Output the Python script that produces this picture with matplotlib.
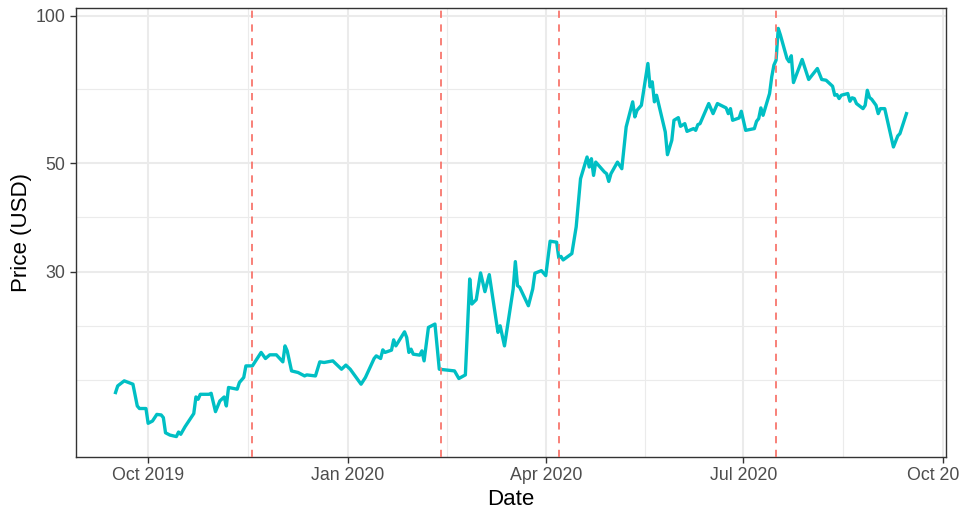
import numpy as np
import pandas as pd
import matplotlib
matplotlib.use("Agg")
import matplotlib.pyplot as plt
import matplotlib.dates as mdates
from matplotlib.ticker import FixedLocator, NullFormatter, FixedFormatter

plt.rcParams["font.family"] = ["Liberation Sans", "DejaVu Sans"]

# Closing prices (USD)
dates = [
    "2019-09-16", "2019-09-17", "2019-09-20", "2019-09-24", "2019-09-26", "2019-09-27",
    "2019-09-30", "2019-10-01", "2019-10-03", "2019-10-05", "2019-10-07", "2019-10-08",
    "2019-10-09", "2019-10-11", "2019-10-14", "2019-10-15", "2019-10-16", "2019-10-18",
    "2019-10-22", "2019-10-23", "2019-10-24", "2019-10-25", "2019-10-29", "2019-10-30",
    "2019-11-01", "2019-11-03", "2019-11-05", "2019-11-06", "2019-11-07", "2019-11-11",
    "2019-11-12", "2019-11-14", "2019-11-15", "2019-11-18", "2019-11-19", "2019-11-22",
    "2019-11-24", "2019-11-26", "2019-11-29", "2019-12-02", "2019-12-03", "2019-12-04",
    "2019-12-06", "2019-12-09", "2019-12-12", "2019-12-13", "2019-12-17", "2019-12-19",
    "2019-12-21", "2019-12-25", "2019-12-29", "2019-12-31", "2020-01-02", "2020-01-07",
    "2020-01-09", "2020-01-13", "2020-01-14", "2020-01-16", "2020-01-17", "2020-01-18",
    "2020-01-21", "2020-01-22", "2020-01-23", "2020-01-27", "2020-01-28", "2020-01-29",
    "2020-01-30", "2020-01-31", "2020-02-03", "2020-02-04", "2020-02-05", "2020-02-07",
    "2020-02-10", "2020-02-12", "2020-02-19", "2020-02-21", "2020-02-24", "2020-02-26",
    "2020-02-27", "2020-02-29", "2020-03-02", "2020-03-04", "2020-03-06", "2020-03-10",
    "2020-03-11", "2020-03-13", "2020-03-17", "2020-03-18", "2020-03-19", "2020-03-20",
    "2020-03-24", "2020-03-26", "2020-03-27", "2020-03-30", "2020-04-01", "2020-04-03",
    "2020-04-06", "2020-04-07", "2020-04-08", "2020-04-09", "2020-04-13", "2020-04-15",
    "2020-04-17", "2020-04-20", "2020-04-21", "2020-04-22", "2020-04-23", "2020-04-24",
    "2020-04-28", "2020-04-29", "2020-04-30", "2020-05-01", "2020-05-04", "2020-05-05",
    "2020-05-06", "2020-05-08", "2020-05-11", "2020-05-12", "2020-05-13", "2020-05-15",
    "2020-05-18", "2020-05-19", "2020-05-20", "2020-05-21", "2020-05-22", "2020-05-26",
    "2020-05-27", "2020-05-29", "2020-05-30", "2020-06-01", "2020-06-02", "2020-06-04",
    "2020-06-05", "2020-06-08", "2020-06-09", "2020-06-10", "2020-06-11", "2020-06-15",
    "2020-06-17", "2020-06-19", "2020-06-23", "2020-06-24", "2020-06-25", "2020-06-26",
    "2020-06-29", "2020-06-30", "2020-07-02", "2020-07-06", "2020-07-07", "2020-07-08",
    "2020-07-09", "2020-07-10", "2020-07-13", "2020-07-14", "2020-07-15", "2020-07-16",
    "2020-07-17", "2020-07-18", "2020-07-21", "2020-07-22", "2020-07-23", "2020-07-24",
    "2020-07-28", "2020-07-31", "2020-08-04", "2020-08-06", "2020-08-08", "2020-08-11",
    "2020-08-12", "2020-08-13", "2020-08-14", "2020-08-15", "2020-08-18", "2020-08-19",
    "2020-08-20", "2020-08-21", "2020-08-22", "2020-08-25", "2020-08-26", "2020-08-27",
    "2020-08-28", "2020-08-29", "2020-08-31", "2020-09-01", "2020-09-02", "2020-09-04",
    "2020-09-08", "2020-09-10", "2020-09-11", "2020-09-14",
]
prices = [
    16.98, 17.52, 17.94, 17.66, 15.94, 15.75,
    15.75, 14.69, 14.85, 15.32, 15.28, 15.09,
    14.05, 13.90, 13.80, 14.10, 13.95, 14.46,
    15.38, 16.63, 16.45, 16.84, 16.84, 16.92,
    15.52, 16.32, 16.63, 15.94, 17.39, 17.25,
    17.80, 18.23, 19.25, 19.25, 19.56, 20.51,
    19.93, 20.28, 20.28, 19.62, 21.15, 20.66,
    18.80, 18.66, 18.36, 18.45, 18.36, 19.62,
    19.56, 19.71, 18.95, 19.32, 18.95, 17.66,
    18.23, 19.93, 20.18, 19.93, 20.76, 20.51,
    20.73, 21.76, 21.15, 22.60, 22.01, 20.51,
    20.83, 20.34, 20.25, 20.66, 19.71, 23.07,
    23.44, 18.95, 18.80, 18.14, 18.45, 28.98,
    25.76, 26.29, 29.82, 27.30, 29.58, 22.54,
    23.25, 21.15, 27.65, 31.45, 28.08, 27.86,
    25.55, 27.65, 29.78, 30.14, 29.44, 34.62,
    34.46, 32.00, 32.23, 31.70, 32.66, 37.04,
    46.45, 51.46, 49.09, 51.05, 47.19, 50.24,
    47.95, 47.57, 45.87, 47.57, 50.24, 49.46,
    48.70, 59.28, 66.72, 62.15, 64.12, 65.64,
    79.93, 71.59, 73.31, 66.72, 68.82, 57.90,
    52.02, 55.66, 61.17, 61.94, 59.46, 60.21,
    58.06, 58.82, 58.34, 59.93, 60.21, 66.18,
    63.12, 66.18, 64.84, 63.12, 64.62, 61.17,
    61.85, 63.82, 58.34, 58.82, 60.87, 61.66,
    64.84, 62.62, 69.38, 75.06, 79.29, 81.18,
    94.27, 91.34, 81.84, 80.58, 82.89, 73.06,
    81.45, 74.12, 78.06, 74.12, 73.87, 71.80,
    68.82, 69.05, 67.76, 68.82, 69.38, 66.91,
    68.00, 67.76, 66.18, 64.62, 65.64, 70.45,
    68.08, 67.53, 65.64, 63.12, 64.62, 64.62,
    53.95, 56.83, 57.45, 63.12,
]

# Event dates marked with vertical dashed lines
event_dates = ["2019-11-18", "2020-02-13", "2020-04-07", "2020-07-16"]

# Axis breaks
y_breaks = [30, 50, 100]
x_breaks = ["2019-10-01", "2020-01-01", "2020-04-01", "2020-07-01", "2020-10-01"]
x_labels = ["Oct 2019", "Jan 2020", "Apr 2020", "Jul 2020", "Oct 2020"]

LINE_COL = "#00BFC4"
EVENT_COL = "#F8766D"
GRID_COL = "#EBEBEB"
TEXT_COL = "#4D4D4D"
BORDER_COL = "#333333"

d = pd.to_datetime(dates)
xnum = mdates.date2num(d)

fig = plt.figure(figsize=(9.6, 5.13), dpi=100)
ax = fig.add_axes([76 / 960, 1 - 457 / 513, (946 - 76) / 960, (457 - 8) / 513])

# Scale limits with 5% expansion on each side
x_lo, x_hi = xnum.min(), xnum.max()
xr = x_hi - x_lo
ax.set_xlim(x_lo - 0.05 * xr, x_hi + 0.05 * xr)

ax.set_yscale("log")
ly = np.log10(prices)
yr = ly.max() - ly.min()
ax.set_ylim(10 ** (ly.min() - 0.05 * yr), 10 ** (ly.max() + 0.05 * yr))

# Minor breaks: midpoints in transformed space, plus one extended step below
lb = np.log10(y_breaks)
lb_ext = np.concatenate([[lb[0] - (lb[1] - lb[0])], lb])
y_minor = list(10 ** lb_ext[:1]) + list(10 ** ((lb_ext[:-1] + lb_ext[1:]) / 2))

xb = mdates.date2num(pd.to_datetime(x_breaks))
xb_ext = np.concatenate([[xb[0] - (xb[1] - xb[0])], xb])
x_minor = (xb_ext[:-1] + xb_ext[1:]) / 2

for v in y_minor:
    ax.axhline(v, color=GRID_COL, lw=0.8, zorder=0)
for v in y_breaks:
    ax.axhline(v, color=GRID_COL, lw=1.5, zorder=0)
for v in x_minor:
    ax.axvline(v, color=GRID_COL, lw=0.8, zorder=0)
for v in xb:
    ax.axvline(v, color=GRID_COL, lw=1.5, zorder=0)

ax.plot(xnum, prices, color=LINE_COL, lw=2.4, solid_joinstyle="round", zorder=3)

for e in event_dates:
    ax.axvline(mdates.date2num(pd.Timestamp(e)), color=EVENT_COL, lw=1.3,
               linestyle=(0, (4, 3.6)), zorder=4)

ax.yaxis.set_major_locator(FixedLocator(y_breaks))
ax.yaxis.set_major_formatter(FixedFormatter([str(v) for v in y_breaks]))
ax.yaxis.set_minor_locator(FixedLocator([]))
ax.yaxis.set_minor_formatter(NullFormatter())
ax.xaxis.set_major_locator(FixedLocator(xb))
ax.xaxis.set_major_formatter(FixedFormatter(x_labels))
ax.xaxis.set_minor_locator(FixedLocator([]))

ax.tick_params(axis="both", which="major", length=4.5, width=1.0, color=BORDER_COL,
               labelsize=12.8, labelcolor=TEXT_COL, pad=3)
for s in ax.spines.values():
    s.set_color(BORDER_COL)
    s.set_linewidth(1.0)

ax.set_xlabel("Date", fontsize=16, color="black", labelpad=3)
ax.set_ylabel("Price (USD)", fontsize=16, color="black", labelpad=3)

fig.savefig("out.png", dpi=100)
